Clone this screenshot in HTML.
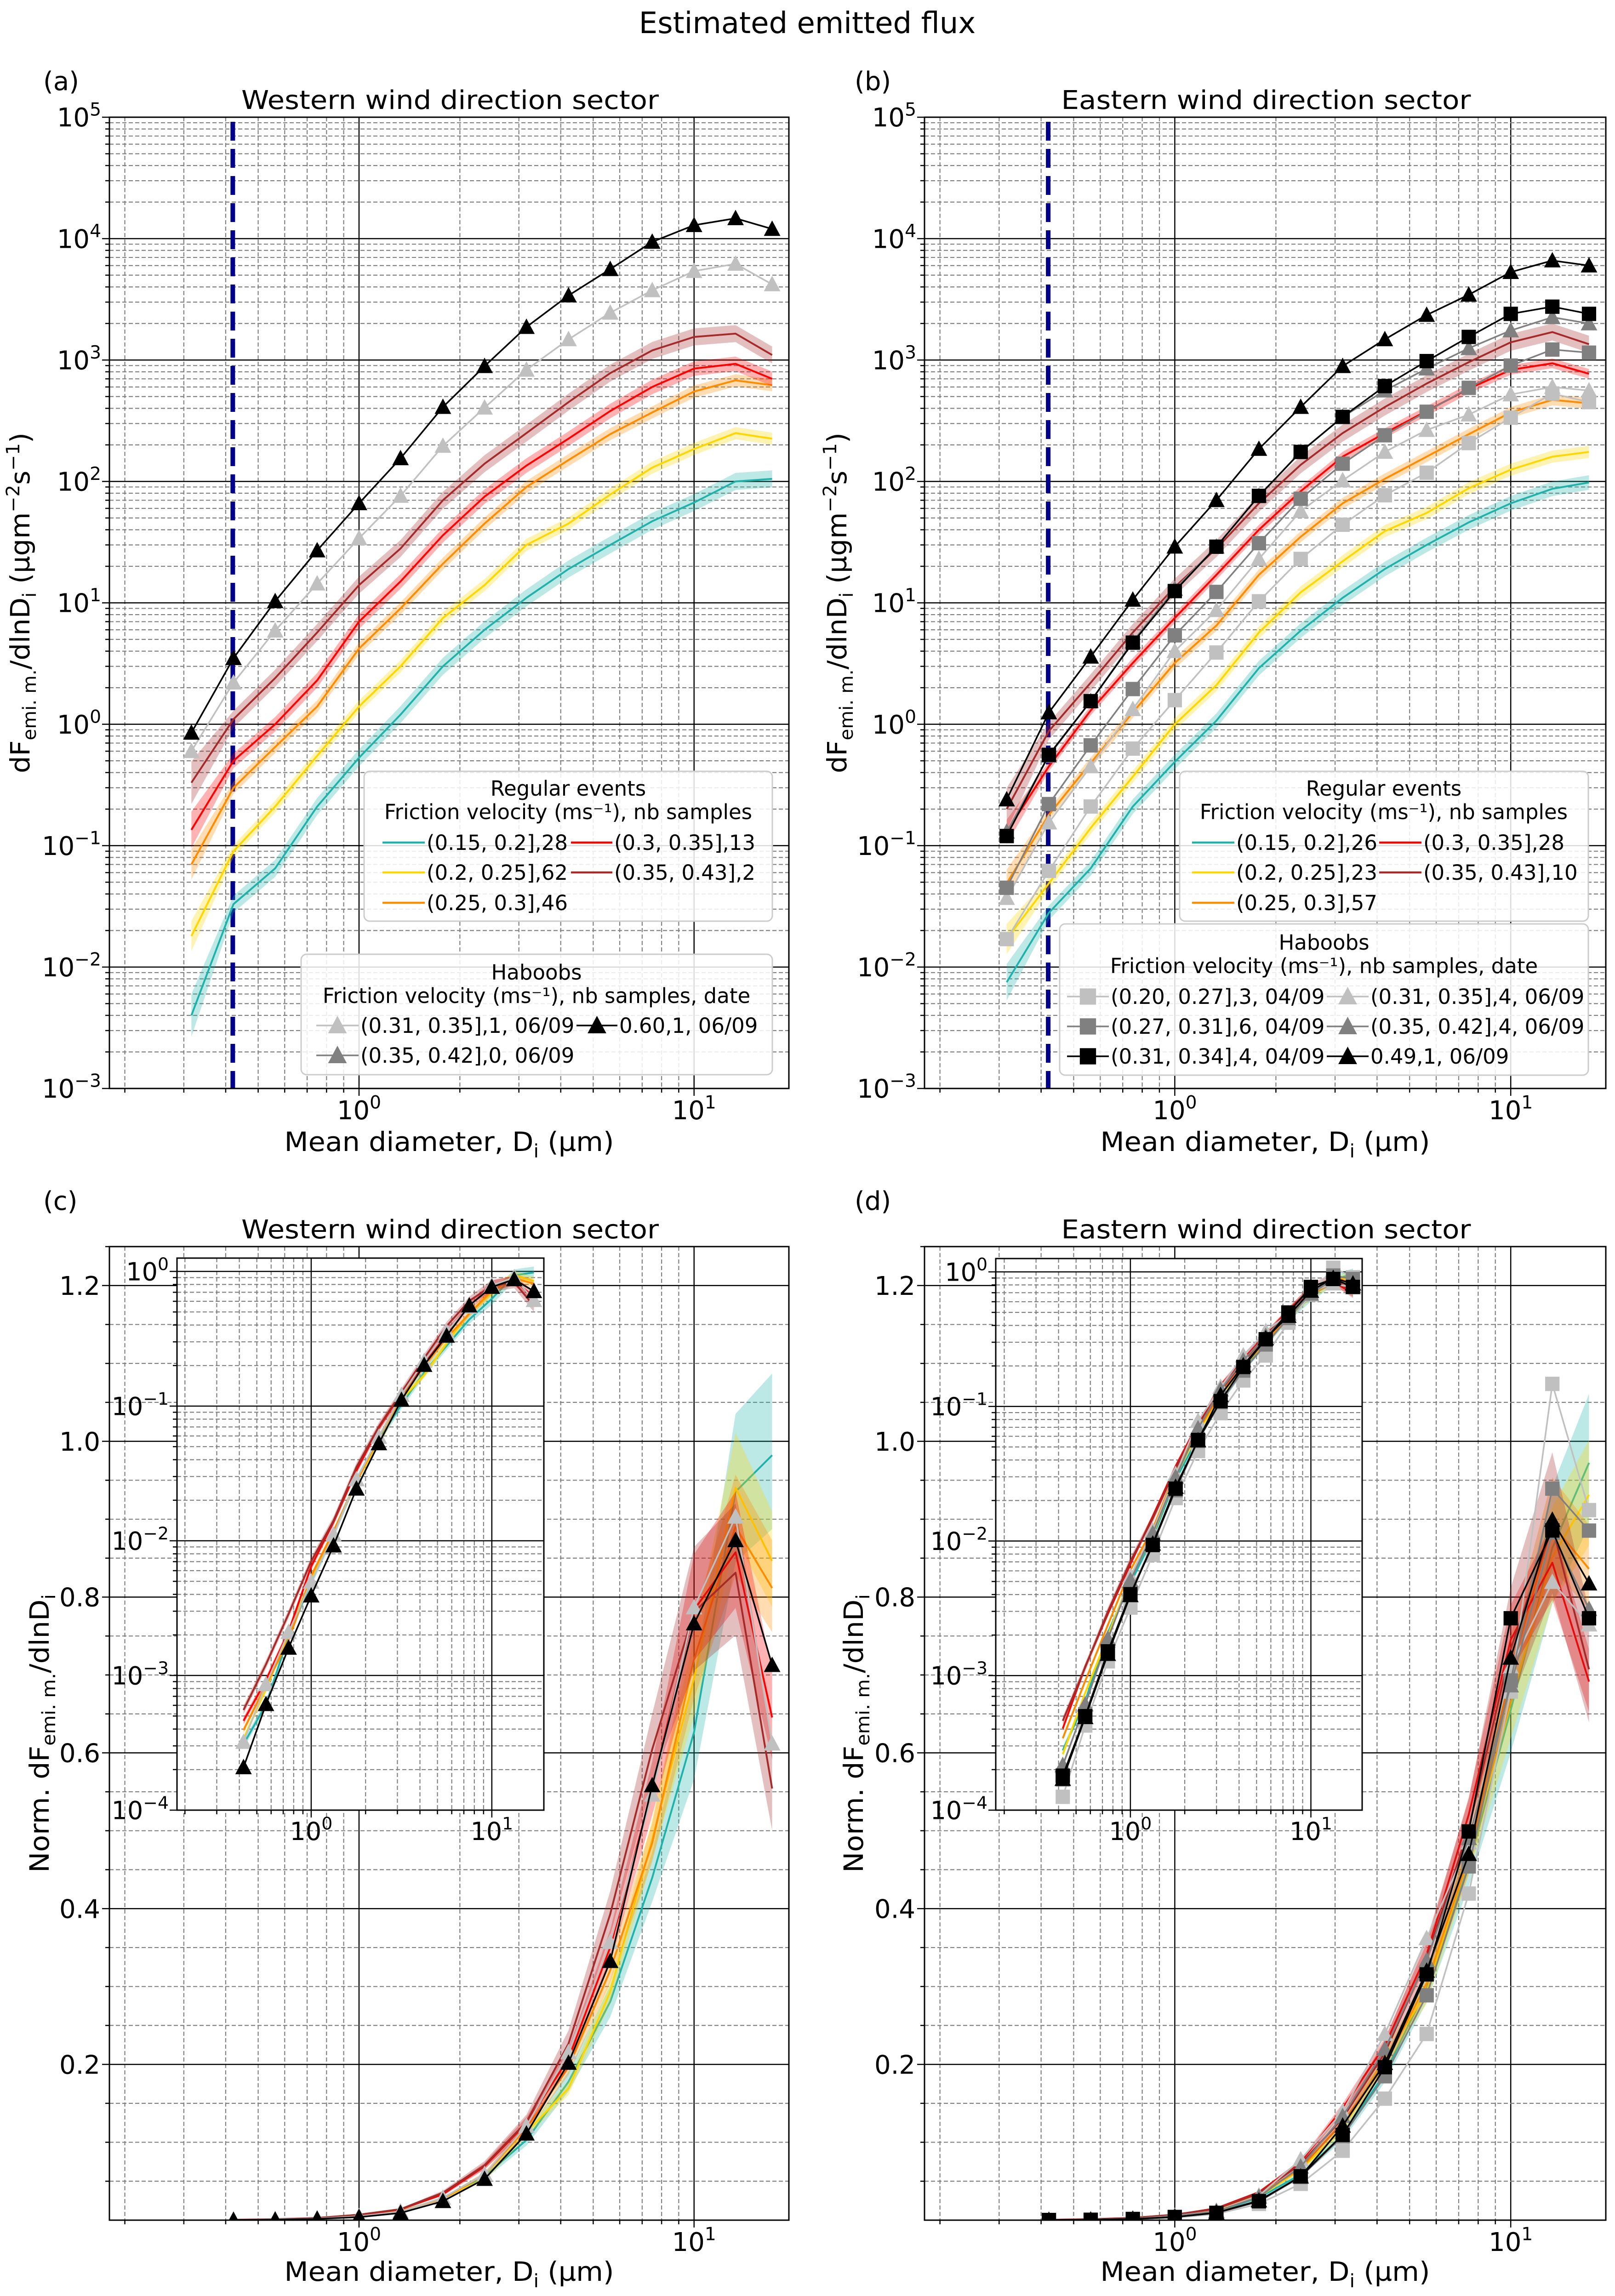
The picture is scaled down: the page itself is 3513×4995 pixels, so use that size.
<!DOCTYPE html>
<html><head><meta charset="utf-8"><title>Estimated emitted flux</title>
<style>html,body{margin:0;padding:0;background:#fff}svg{display:block}text{font-family:"DejaVu Sans","Liberation Sans",sans-serif;fill:#000}</style>
</head><body>
<svg id="fig" xmlns="http://www.w3.org/2000/svg" width="3513" height="4995" viewBox="0 0 3513 4995"></svg>
<script>
// ---------- DATA ----------
const diameters=[0.316,0.422,0.562,0.75,1.0,1.33,1.78,2.37,3.16,4.22,5.62,7.5,10,13.3,17.1];
// Western sector (a)
const westTeal=[0.004,0.033,0.065,0.21,0.53,1.2,3,6,11,19,30,47,67,100,105];
const westYellow=[0.018,0.09,0.21,0.55,1.4,3,7.5,14,30,45,78,130,185,250,225];
const westOrange=[0.07,0.3,0.65,1.4,4.2,9,21,45,90,150,245,370,550,680,620];
const westRed=[0.135,0.5,1.0,2.3,7,15,36,75,135,225,380,600,850,930,700];
const westBrown=[0.33,1.1,2.4,5.7,14,28,70,140,250,450,780,1200,1550,1650,1100];
const westHabLightTri=[0.6,2.2,5.9,14.4,34,76,196,405,830,1480,2450,3750,5400,6200,4200];
const westHabBlackTri=[0.85,3.5,10.3,27,66,155,410,890,1870,3400,5600,9400,12900,14700,12000];
// Eastern sector (b)
const eastTeal=[0.0075,0.028,0.065,0.21,0.49,1.07,2.9,5.9,11,19,30,46,66,87,98];
const eastYellow=[0.017,0.049,0.14,0.37,1.0,2.1,5.7,12.2,22,39,55,88,125,160,175];
const eastOrange=[0.049,0.18,0.48,1.25,3.2,6.5,17,35,66,105,160,245,370,470,440];
const eastRed=[0.13,0.45,1.3,3.2,7.5,17,40,83,160,250,380,580,830,940,770];
const eastBrown=[0.2,0.88,2.2,5.7,13.5,28,66,137,250,410,640,960,1400,1700,1350];
const eastHabLightSq=[0.017,0.062,0.21,0.63,1.58,3.9,10.3,23,44,77,118,207,335,530,450];
const eastHabDarkSq=[0.045,0.22,0.67,1.95,5.4,12.3,31,72,140,240,375,590,900,1220,1150];
const eastHabBlackSq=[0.12,0.56,1.55,4.7,12.5,29,76,175,340,610,980,1550,2400,2750,2400];
const eastHabLightTri=[0.037,0.155,0.45,1.33,4,8.7,23,57,102,175,265,355,520,600,560];
const eastHabDarkTri=[0.13,0.55,1.55,4.8,13,29,76,175,340,560,850,1250,1750,2250,2000];
const eastHabBlackTri=[0.24,1.25,3.6,10.6,29,70,185,410,890,1480,2350,3450,5300,6600,6000];
const cutoffDiameter=0.42;
const linTicks=[0.2,0.4,0.6,0.8,1.0,1.2];
const logXTicks=[0,1];

// ---------- HELPERS ----------
const NS='http://www.w3.org/2000/svg';
const svg=document.getElementById('fig');
function mk(tag,parent,attrs){const e=document.createElementNS(NS,tag);for(const k in attrs)e.setAttribute(k,attrs[k]);parent.appendChild(e);return e;}
const COL={teal:'#20b2aa',yellow:'#ffd700',orange:'#ff8c00',red:'#ff0000',brown:'#a52a2a',lgray:'#c0c0c0',dgray:'#808080',black:'#000000'};
const LN10=Math.log(10);

function panel(cfg){
  const P=Object.assign({},cfg);
  P.sx=v=>P.L+(Math.log10(v)-P.x0)/(P.x1-P.x0)*(P.R-P.L);
  P.sy=P.log?(v=>P.B-(Math.log10(v)-P.y0)/(P.y1-P.y0)*(P.B-P.T)):(v=>P.B-(v-P.y0)/(P.y1-P.y0)*(P.B-P.T));
  return P;
}
function addText(parent,x,y,size,anchor,str){const t=mk('text',parent,{x:x,y:y,'font-size':size,'text-anchor':anchor});t.textContent=str;return t;}
function powLabel(parent,x,y,size,anchor,exp){
  const t=mk('text',parent,{x:x,y:y,'font-size':size,'text-anchor':anchor});
  const a=mk('tspan',t,{});a.textContent='10';
  const b=mk('tspan',t,{dy:-size*0.42,'font-size':size*0.7});b.textContent=(exp<0?'\u2212'+(-exp):String(exp));
  return t;
}
function drawFrameGrid(P,g){
  mk('rect',g,{x:P.L,y:P.T,width:P.R-P.L,height:P.B-P.T,fill:'#fff'});
  const grid=mk('g',g,{});
  
  
  for(let d=-2;d<=2;d++){for(let k=1;k<=9;k++){const v=k*Math.pow(10,d);const lv=Math.log10(v);if(lv<P.x0||lv>P.x1)continue;const x=P.sx(v);
    if(k===1)mk('line',grid,{x1:x,x2:x,y1:P.T,y2:P.B,stroke:'#000','stroke-width':2.5});
    else mk('line',grid,{x1:x,x2:x,y1:P.T,y2:P.B,stroke:'#808080','stroke-width':2.2,'stroke-dasharray':'9,5'});
    mk('line',grid,{x1:x,x2:x,y1:P.B,y2:P.B+(k===1?16:9),stroke:'#000','stroke-width':2.5});}}
  if(P.log){
    for(let d=Math.floor(P.y0)-1;d<=Math.ceil(P.y1);d++){for(let k=1;k<=9;k++){const v=k*Math.pow(10,d);const lv=Math.log10(v);if(lv<P.y0-1e-9||lv>P.y1+1e-9)continue;const y=P.sy(v);
      if(k===1)mk('line',grid,{x1:P.L,x2:P.R,y1:y,y2:y,stroke:'#000','stroke-width':2.5});
      else mk('line',grid,{x1:P.L,x2:P.R,y1:y,y2:y,stroke:'#808080','stroke-width':2.2,'stroke-dasharray':'9,5'});
      mk('line',grid,{x1:P.L-(k===1?16:9),x2:P.L,y1:y,y2:y,stroke:'#000','stroke-width':2.5});}}
  } else {
    for(let i=1;i<=25;i++){const v=i*0.05;if(v>P.y1)break;const y=P.sy(v);const major=(i%4===0);
      if(major)mk('line',grid,{x1:P.L,x2:P.R,y1:y,y2:y,stroke:'#000','stroke-width':2.5});
      else mk('line',grid,{x1:P.L,x2:P.R,y1:y,y2:y,stroke:'#808080','stroke-width':2.2,'stroke-dasharray':'9,5'});
      mk('line',grid,{x1:P.L-(major?16:9),x2:P.L,y1:y,y2:y,stroke:'#000','stroke-width':2.5});}
  }
}
function drawFrameBorder(P,g){mk('rect',g,{x:P.L,y:P.T,width:P.R-P.L,height:P.B-P.T,fill:'none',stroke:'#000','stroke-width':3});}
function drawTicks(P,g,fs){
  const tg=mk('g',g,{});
  
  
  logXTicks.forEach(e=>{powLabel(tg,P.sx(Math.pow(10,e)),P.B+fs*1.2,fs,'middle',e);});
  if(P.log){for(let e=Math.ceil(P.y0);e<=Math.floor(P.y1);e++){powLabel(tg,P.L-18,P.sy(Math.pow(10,e))+fs*0.36,fs,'end',e);}}
  else linTicks.forEach(v=>{addText(tg,P.L-20,P.sy(v)+fs*0.36,fs,'end',v.toFixed(1));});
}
function clipFor(P){
  const id='clip'+P.name;const cp=mk('clipPath',svg,{id:id});mk('rect',cp,{x:P.L,y:P.T,width:P.R-P.L,height:P.B-P.T});return 'url(#'+id+')';
}
function bandW(base,i,n,norm){
  if(norm){let w=base*0.45;if(i>=n-3)w*=1.4;return w;}
  let w=base;if(i===0)w*=2.5;return w;
}
function drawRegular(P,g,xs,vals,color,base,name,norm){
  const s=mk('g',g,{});
  
  
  const up=[],lo=[];
  vals.forEach((v,i)=>{const w=bandW(base,i,vals.length,norm);up.push(P.sx(xs[i])+','+P.sy(v*Math.pow(10,w)));lo.unshift(P.sx(xs[i])+','+P.sy(v/Math.pow(10,w)));});
  const band=mk('polygon',s,{points:up.concat(lo).join(' '),fill:color,'fill-opacity':0.3,stroke:'none'});
  
  
  const pts=vals.map((v,i)=>P.sx(xs[i])+','+P.sy(v)).join(' ');
  const line=mk('polyline',s,{points:pts,fill:'none',stroke:color,'stroke-width':4,'stroke-linejoin':'round'});
  
  
}
function marker(parent,x,y,shape,color,sz){
  if(shape==='tri')return mk('polygon',parent,{points:(x-sz*0.6)+','+(y+sz*0.5)+' '+(x+sz*0.6)+','+(y+sz*0.5)+' '+x+','+(y-sz*0.62),fill:color});
  return mk('rect',parent,{x:x-sz*0.52,y:y-sz*0.52,width:sz*1.04,height:sz*1.04,fill:color});
}
function drawHaboob(P,g,xs,vals,color,shape,name,sz){
  const s=mk('g',g,{});
  
  
  const pts=vals.map((v,i)=>P.sx(xs[i])+','+P.sy(v)).join(' ');
  const line=mk('polyline',s,{points:pts,fill:'none',stroke:color,'stroke-width':3.5});
  
  
  vals.forEach((v,i)=>{const m=marker(s,P.sx(xs[i]),P.sy(v),shape,color,sz);
    
    });
}
function normalize(arr){const a=arr.slice(1);const s=a.reduce((p,c)=>p+c,0)*LN10/8;return a.map(v=>1.05*v/s);}

function drawSeriesSet(P,g,sector,norm,sz){
  const xs=norm?diameters.slice(1):diameters;
  const f=norm?normalize:(a=>a);
  const reg=sector==='west'?
    [[westTeal,COL.teal,0.07,'teal'],[westYellow,COL.yellow,0.05,'yellow'],[westOrange,COL.orange,0.05,'orange'],[westRed,COL.red,0.06,'red'],[westBrown,COL.brown,0.07,'brown']]:
    [[eastTeal,COL.teal,0.06,'teal'],[eastYellow,COL.yellow,0.05,'yellow'],[eastOrange,COL.orange,0.045,'orange'],[eastRed,COL.red,0.04,'red'],[eastBrown,COL.brown,0.07,'brown']];
  reg.forEach(r=>drawRegular(P,g,xs,f(r[0]),r[1],r[2],P.name+'-'+r[3]+'-series',norm));
  const hab=sector==='west'?
    [[westHabLightTri,COL.lgray,'tri','haboob-light-triangle'],[westHabBlackTri,COL.black,'tri','haboob-black-triangle']]:
    [[eastHabLightSq,COL.lgray,'sq','haboob-light-square'],[eastHabLightTri,COL.lgray,'tri','haboob-light-triangle'],[eastHabDarkSq,COL.dgray,'sq','haboob-dark-square'],[eastHabDarkTri,COL.dgray,'tri','haboob-dark-triangle'],[eastHabBlackSq,COL.black,'sq','haboob-black-square'],[eastHabBlackTri,COL.black,'tri','haboob-black-triangle']];
  hab.forEach(h=>drawHaboob(P,g,xs,f(h[0]),h[1],h[2],P.name+'-'+h[3],sz));
}

function ylabelMain(parent,x,cy,len,norm){
  const t=mk('text',parent,{x:0,y:0,'font-size':58,'text-anchor':'middle',transform:'translate('+x+','+cy+') rotate(-90)',textLength:len,lengthAdjust:'spacingAndGlyphs'});
  const parts=norm?[['Norm. dF',0],['emi. m.',1],['/dlnD',0],['i',1]]:[['dF',0],['emi. m.',1],['/dlnD',0],['i',1],[' (µgm',0],['−2',2],['s',0],['−1',2],[')',0]];
  let cur=0;
  parts.forEach(p=>{const target=p[1]===1?14:(p[1]===2?-22:0);const ts=mk('tspan',t,{dy:target-cur,'font-size':p[1]?40:58});ts.textContent=p[0];cur=target;});
  return t;
}
function xlabel(parent,cx,y){
  const t=mk('text',parent,{x:cx,y:y,'font-size':58,'text-anchor':'middle',textLength:717,lengthAdjust:'spacingAndGlyphs'});
  const a=mk('tspan',t,{});a.textContent='Mean diameter, D';
  const b=mk('tspan',t,{dy:14,'font-size':40});b.textContent='i';
  const c=mk('tspan',t,{dy:-14});c.textContent=' (µm)';
  return t;
}

// ---------- SUPTITLE ----------
const sup=addText(svg,1756,72,64,'middle','Estimated emitted flux');



// ---------- PANEL BUILD ----------
function buildMain(cfg){
  const P=panel(cfg);
  const g=mk('g',svg,{});
  
  
  drawFrameGrid(P,g);
  const clip=clipFor(P);
  const data=mk('g',g,{'clip-path':clip});
  
  
  if(!P.norm){
    const cut=mk('line',data,{x1:P.sx(cutoffDiameter),x2:P.sx(cutoffDiameter),y1:P.T+10,y2:P.B,stroke:'#00008b','stroke-width':10,'stroke-dasharray':'41,18'});
    
    
  }
  drawSeriesSet(P,data,P.sector,P.norm,30);
  drawFrameBorder(P,g);
  drawTicks(P,g,56);
  const tt=mk('text',g,{x:P.tcx,y:P.T-18,'font-size':56,'text-anchor':'middle',textLength:P.tlen,lengthAdjust:'spacingAndGlyphs'});
  tt.textContent=P.title;
  
  
  const pl=addText(g,P.plx,P.ply,56,'start',P.letter);
  
  
  const yl=ylabelMain(g,P.ylx,(P.T+P.B)/2,P.norm?606:741,P.norm);
  
  
  const xl=xlabel(g,(P.L+P.R)/2,P.B+(P.norm?132:136));
  
  
  return {P,g};
}
function buildInset(cfg){
  const P=panel(cfg);
  const g=mk('g',svg,{});
  
  
  drawFrameGrid(P,g);
  const clip=clipFor(P);
  const data=mk('g',g,{'clip-path':clip});
  
  
  drawSeriesSet(P,data,P.sector,true,30);
  drawFrameBorder(P,g);
  drawTicks(P,g,54);
}

const lx0=-0.745,lx1=1.283;
buildMain({name:'panel-a',L:238,R:1716,T:255,B:2368,x0:lx0,x1:lx1,y0:-3,y1:5,log:true,sector:'west',norm:false,title:'Western wind direction sector',tcx:979,tlen:908,letter:'(a)',plx:94,ply:196,ylx:64});
buildMain({name:'panel-b',L:2011,R:3493,T:255,B:2368,x0:lx0,x1:lx1,y0:-3,y1:5,log:true,sector:'east',norm:false,title:'Eastern wind direction sector',tcx:2754,tlen:891,letter:'(b)',plx:1859,ply:196,ylx:1841});
buildMain({name:'panel-c',L:238,R:1716,T:2712,B:4830,x0:lx0,x1:lx1,y0:0,y1:1.25,log:false,sector:'west',norm:true,title:'Western wind direction sector',tcx:979,tlen:908,letter:'(c)',plx:94,ply:2632,ylx:106});
buildMain({name:'panel-d',L:2011,R:3493,T:2712,B:4830,x0:lx0,x1:lx1,y0:0,y1:1.25,log:false,sector:'east',norm:true,title:'Eastern wind direction sector',tcx:2754,tlen:891,letter:'(d)',plx:1859,ply:2632,ylx:1877});
buildInset({name:'inset-c',L:385,R:1183,T:2737,B:3938,x0:-0.743,x1:1.288,y0:-4,y1:0.099,log:true,sector:'west'});
buildInset({name:'inset-d',L:2166,R:2963,T:2738,B:3938,x0:-0.746,x1:1.284,y0:-4,y1:0.099,log:true,sector:'east'});

// ---------- LEGENDS ----------
const LFS=45;
function legendBox(x,y,w,h,name){
  const g=mk('g',svg,{});
  
  
  mk('rect',g,{x:x,y:y,width:w,height:h,rx:12,fill:'#fff','fill-opacity':0.85,stroke:'#cccccc','stroke-width':3});
  return g;
}
function legendEntry(g,hx1,hx2,by,color,shape,label,name){
  const e=mk('g',g,{});
  
  
  mk('line',e,{x1:hx1,x2:hx2,y1:by-16,y2:by-16,stroke:color,'stroke-width':shape?3.5:4.5});
  if(shape)marker(e,(hx1+hx2)/2,by-16,shape,color,34);
  addText(e,hx2+4,by,LFS,'start',label);
}
function legendTitle(g,cx,y1,y2,l1,l2){
  addText(g,cx,y1,LFS,'middle',l1);
  addText(g,cx,y2,LFS,'middle',l2);
}
let lg=legendBox(792,1678,888,326,'legend-a-regular');
legendTitle(lg,1236,1731,1782,'Regular events','Friction velocity (ms\u207B\u00B9), nb samples');
legendEntry(lg,832,924,1849,COL.teal,null,'(0.15, 0.2],28','legend-entry-teal');
legendEntry(lg,1242,1332,1849,COL.red,null,'(0.3, 0.35],13','legend-entry-red');
legendEntry(lg,832,924,1914,COL.yellow,null,'(0.2, 0.25],62','legend-entry-yellow');
legendEntry(lg,1242,1332,1914,COL.brown,null,'(0.35, 0.43],2','legend-entry-brown');
legendEntry(lg,832,924,1980,COL.orange,null,'(0.25, 0.3],46','legend-entry-orange');
lg=legendBox(655,2076,1025,262,'legend-a-haboobs');
legendTitle(lg,1167,2131,2182,'Haboobs','Friction velocity (ms\u207B\u00B9), nb samples, date');
legendEntry(lg,688,780,2247,COL.lgray,'tri','(0.31, 0.35],1, 06/09','legend-entry-light-triangle');
legendEntry(lg,1254,1343,2247,COL.black,'tri','0.60,1, 06/09','legend-entry-black-triangle');
legendEntry(lg,688,780,2312,COL.dgray,'tri','(0.35, 0.42],0, 06/09','legend-entry-dark-triangle');
lg=legendBox(2566,1678,889,326,'legend-b-regular');
legendTitle(lg,3010,1731,1782,'Regular events','Friction velocity (ms\u207B\u00B9), nb samples');
legendEntry(lg,2593,2685,1849,COL.teal,null,'(0.15, 0.2],26','legend-entry-teal');
legendEntry(lg,3000,3092,1849,COL.red,null,'(0.3, 0.35],28','legend-entry-red');
legendEntry(lg,2593,2685,1914,COL.yellow,null,'(0.2, 0.25],23','legend-entry-yellow');
legendEntry(lg,3000,3092,1914,COL.brown,null,'(0.35, 0.43],10','legend-entry-brown');
legendEntry(lg,2593,2685,1980,COL.orange,null,'(0.25, 0.3],57','legend-entry-orange');
lg=legendBox(2305,2010,1150,329,'legend-b-haboobs');
legendTitle(lg,2880,2066,2117,'Haboobs','Friction velocity (ms\u207B\u00B9), nb samples, date');
legendEntry(lg,2321,2412,2184,COL.lgray,'sq','(0.20, 0.27],3, 04/09','legend-entry-light-square');
legendEntry(lg,2886,2977,2184,COL.lgray,'tri','(0.31, 0.35],4, 06/09','legend-entry-light-triangle');
legendEntry(lg,2321,2412,2249,COL.dgray,'sq','(0.27, 0.31],6, 04/09','legend-entry-dark-square');
legendEntry(lg,2886,2977,2249,COL.dgray,'tri','(0.35, 0.42],4, 06/09','legend-entry-dark-triangle');
legendEntry(lg,2321,2412,2314,COL.black,'sq','(0.31, 0.34],4, 04/09','legend-entry-black-square');
legendEntry(lg,2886,2977,2314,COL.black,'tri','0.49,1, 06/09','legend-entry-black-triangle');
</script>
</body></html>
